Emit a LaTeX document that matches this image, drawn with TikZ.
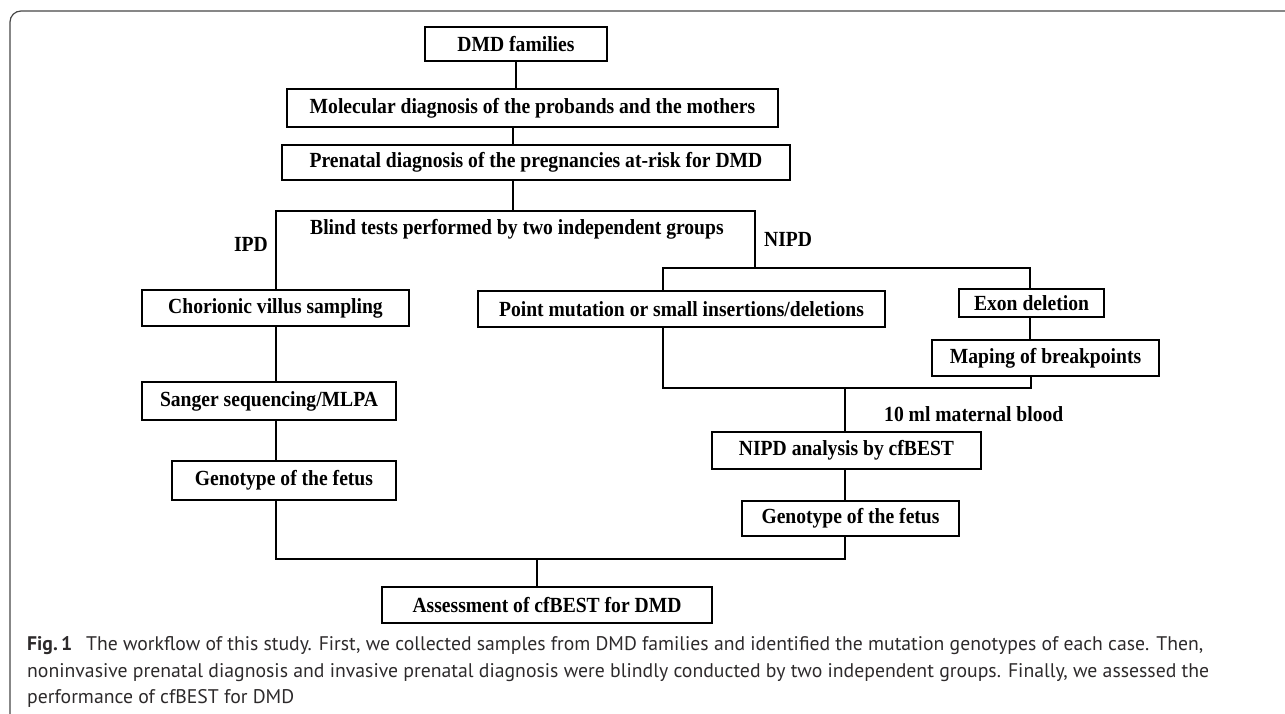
\documentclass[tikz,border=0pt]{standalone}
\usepackage{fontspec}
\usepackage{graphicx}
\setmainfont{Liberation Serif}
\newfontfamily\capfont{PT Sans}
\definecolor{framegray}{RGB}{70,70,70}
\definecolor{captext}{RGB}{45,42,43}
\newcommand{\tallt}[1]{\scalebox{1}[1.1]{#1}}
\begin{document}
\begin{tikzpicture}[x=1pt,y=-1pt,
  box/.style={draw=black, line width=1.2pt, inner sep=0pt, font=\fontsize{19.6}{22}\selectfont\bfseries},
  lbl/.style={inner sep=0pt, font=\fontsize{19.6}{22}\selectfont\bfseries},
  conn/.style={line width=2.2pt},
  framestyle/.style={draw=framegray, line width=1.2pt},
  captionline/.style={inner sep=0pt, anchor=west, font=\capfont\fontsize{19.5}{22}\selectfont, text=captext}]
\useasboundingbox (0,0) rectangle (1285,714);
\draw[framestyle, rounded corners=11] (1290,11) -- (10,11) -- (10,720);

% boxes
\node[box, minimum width=182, minimum height=34] (dmd) at (516,44) {\tallt{DMD families}};
\node[box, minimum width=491, minimum height=38] (mol) at (532.5,108) {\tallt{Molecular diagnosis of the probands and the mothers}};
\node[box, minimum width=508, minimum height=35] (pre) at (536,162.5) {\tallt{Prenatal diagnosis of the pregnancies at-risk for DMD}};
\node[box, minimum width=267, minimum height=36] (cvs) at (275.5,308) {\tallt{Chorionic villus sampling}};
\node[box, minimum width=407, minimum height=36] (pm) at (681.5,309) {\tallt{Point mutation or small insertions/deletions}};
\node[box, minimum width=145, minimum height=28] (exon) at (1031.5,303) {\tallt{Exon deletion}};
\node[box, minimum width=227, minimum height=36] (map) at (1045.5,358) {\tallt{Maping of breakpoints}};
\node[box, minimum width=254, minimum height=38] (sanger) at (269,401) {\tallt{Sanger sequencing/MLPA}};
\node[box, minimum width=224, minimum height=39] (genoL) at (284,480.5) {\tallt{Genotype of the fetus}};
\node[box, minimum width=269, minimum height=37] (nipda) at (846.5,450.5) {\tallt{NIPD analysis by cfBEST}};
\node[box, minimum width=217, minimum height=35] (genoR) at (850.5,518.5) {\tallt{Genotype of the fetus}};
\node[box, minimum width=330, minimum height=36] (assess) at (547,605) {\tallt{Assessment of cfBEST for DMD}};

% labels
\node[lbl, anchor=west] (blind) at (310,229) {\tallt{Blind tests performed by two independent groups}};
\node[lbl, anchor=east] (ipd) at (268,244) {\tallt{IPD}};
\node[lbl, anchor=west] (nipd) at (764,239) {\tallt{NIPD}};
\node[lbl, anchor=west] (blood) at (884,414) {\tallt{10 ml maternal blood}};

% junctions
\coordinate (ja) at (513,211);
\coordinate (jl) at (276,211);
\coordinate (jr) at (755,211);
\coordinate (jb) at (755,268);
\coordinate (jbl) at (663,268);
\coordinate (jbr) at (1030,268);
\coordinate (jc) at (845,388);
\coordinate (jcl) at (663,388);
\coordinate (jcr) at (1031,388);
\coordinate (jd) at (537,559);
\coordinate (jdl) at (276,559);
\coordinate (jdr) at (845,559);

% connectors
\draw[conn] (dmd.south) -- (dmd.south |- mol.north);
\draw[conn] (mol.south -| ja) -- (pre.north -| ja);
\draw[conn] (pre.south -| ja) -- (ja);
\draw[conn] (cvs.north -| jl) -- (jl) -- (jr) -- (jb);
\draw[conn] (pm.north -| jbl) -- (jbl) -- (jbr) -- (exon.north -| jbr);
\draw[conn] (exon.south -| jbr) -- (map.north -| jbr);
\draw[conn] (pm.south -| jcl) -- (jcl) -- (jcr) -- (map.south -| jcr);
\draw[conn] (jc) -- (nipda.north -| jc);
\draw[conn] (nipda.south -| jc) -- (genoR.north -| jc);
\draw[conn] (genoR.south -| jc) -- (jdr) -- (jdl) -- (genoL.south -| jdl);
\draw[conn] (cvs.south -| jl) -- (sanger.north -| jl);
\draw[conn] (sanger.south -| jl) -- (genoL.north -| jl);
\draw[conn] (jd) -- (assess.north -| jd);

% caption
\node[captionline] (cap1) at (27,646) {\resizebox{1176pt}{!}{{\bfseries Fig.\,1}\hspace{0.7em}The workflow of this study. First, we collected samples from DMD families and identified the mutation genotypes of each case. Then,}};
\node[captionline] (cap2) at (27,673) {\resizebox{1182pt}{!}{noninvasive prenatal diagnosis and invasive prenatal diagnosis were blindly conducted by two independent groups. Finally, we assessed the}};
\node[captionline] (cap3) at (27,698) {\resizebox{267pt}{!}{performance of cfBEST for DMD}};
\end{tikzpicture}
\end{document}
